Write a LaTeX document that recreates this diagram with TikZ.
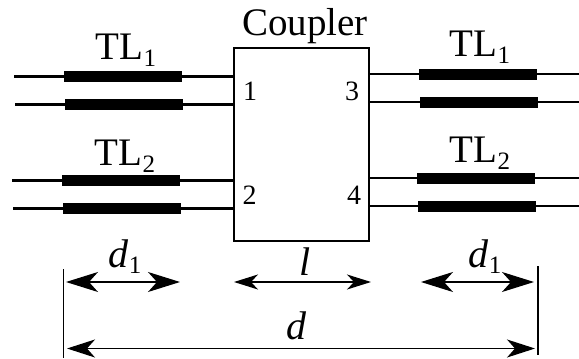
\documentclass[tikz,border=0pt]{standalone}
\usepackage{fontspec}
\setmainfont{Liberation Serif}
\usetikzlibrary{arrows.meta}

\newcommand{\lowidx}[2]{\raisebox{#1}{\fontsize{25}{25}\selectfont #2}}

\begin{document}
\begin{tikzpicture}[x=1pt, y=-1pt]
\tikzset{ inner sep=0pt, outer sep=0pt,
  wire/.style={line width=2.2pt},
  dimline/.style={line width=1.2pt},
  bigtip/.style={{Stealth[length=32pt,width=20pt,inset=9pt]}-{Stealth[length=32pt,width=20pt,inset=9pt]}},
  smalltip/.style={{Stealth[length=24pt,width=15pt,inset=7pt]}-{Stealth[length=24pt,width=15pt,inset=7pt]}},
  midtip/.style={{Stealth[length=28pt,width=18pt,inset=8pt]}-{Stealth[length=28pt,width=18pt,inset=8pt]}},
  bar/.style={fill=black, minimum width=118pt, minimum height=11pt},
  title/.style={font=\fontsize{39}{39}\selectfont, anchor=base},
  port/.style={font=\fontsize{28}{28}\selectfont, anchor=base},
  dimlabel/.style={font=\fontsize{40}{40}\selectfont\itshape, anchor=base},
}

\useasboundingbox (0,0) rectangle (579,359);

% coupler
\node [draw, line width=2.5pt, minimum width=135pt, minimum height=193pt] (C) at (301.5,144.5) {};

% bars on the left
\node [bar] (LA) at (123,76.5) {};
\node [bar] (LB) at (124,104.5) {};
\node [bar] (LC) at (121,180.5) {};
\node [bar] (LD) at (122,208.5) {};

% bars on the right
\node [bar] (RA) at (478,74) {};
\node [bar] (RB) at (479,102) {};
\node [bar] (RC) at (476,178) {};
\node [bar] (RD) at (477,206) {};

\coordinate (LAe) at (14,76.5);
\coordinate (LBe) at (15,104.5);
\coordinate (LCe) at (12,180.5);
\coordinate (LDe) at (13,208.5);

\draw [wire] (LAe) -- (LA);
\draw [wire] (LBe) -- (LB);
\draw [wire] (LCe) -- (LC);
\draw [wire] (LDe) -- (LD);

\draw [wire] (LA) -- (LA -| C.west);
\draw [wire] (LB) -- (LB -| C.west);
\draw [wire] (LC) -- (LC -| C.west);
\draw [wire] (LD) -- (LD -| C.west);

\coordinate (RAe) at (579,74);
\coordinate (RBe) at (579,102);
\coordinate (RCe) at (579,178);
\coordinate (RDe) at (579,206);

\draw [wire] (RA -| C.east) -- (RA);
\draw [wire] (RB -| C.east) -- (RB);
\draw [wire] (RC -| C.east) -- (RC);
\draw [wire] (RD -| C.east) -- (RD);

\draw [wire] (RA) -- (RAe);
\draw [wire] (RB) -- (RBe);
\draw [wire] (RC) -- (RCe);
\draw [wire] (RD) -- (RDe);

% labels
\node [title] (Ttl) at (305,35) {Coupler};
\node [title] (Tla) at (126,59) {TL\lowidx{-7pt}{1}};
\node [title] (Tlb) at (125,165) {TL\lowidx{-7pt}{2}};
\node [title] (Tlc) at (480,56) {TL\lowidx{-7pt}{1}};
\node [title] (Tld) at (480,162) {TL\lowidx{-7pt}{2}};

\node [port] (Pa) at (250,100) {1};
\node [port] (Pb) at (249.5,204) {2};
\node [port] (Pc) at (352,100) {3};
\node [port] (Pd) at (354,204) {4};

% dimensions
\coordinate (TLt) at (63.5,269);
\coordinate (TLb) at (63.5,358);
\coordinate (TRt) at (538,266);
\coordinate (TRb) at (538,355);
\draw [dimline] (TLt) -- (TLb);
\draw [dimline] (TRt) -- (TRb);

\coordinate (AAl) at (66,282);
\coordinate (AAr) at (180,282);
\coordinate (ABl) at (234,282);
\coordinate (ABr) at (371,282);
\coordinate (ACl) at (421,282);
\coordinate (ACr) at (534,282);
\coordinate (ADl) at (67,348.5);
\coordinate (ADr) at (535,348.5);

\draw [dimline, bigtip] (AAl) -- (AAr);
\draw [dimline, smalltip] (ABl) -- (ABr);
\draw [dimline, bigtip] (ACl) -- (ACr);
\draw [dimline, midtip] (ADl) -- (ADr);

\node [dimlabel] (Da) at (125,267) {d\lowidx{-6pt}{\upshape 1}};
\node [dimlabel] (Db) at (305,275) {l};
\node [dimlabel] (Dc) at (485,267) {d\lowidx{-6pt}{\upshape 1}};
\node [dimlabel] (Dd) at (296,339) {d};

\end{tikzpicture}
\end{document}
